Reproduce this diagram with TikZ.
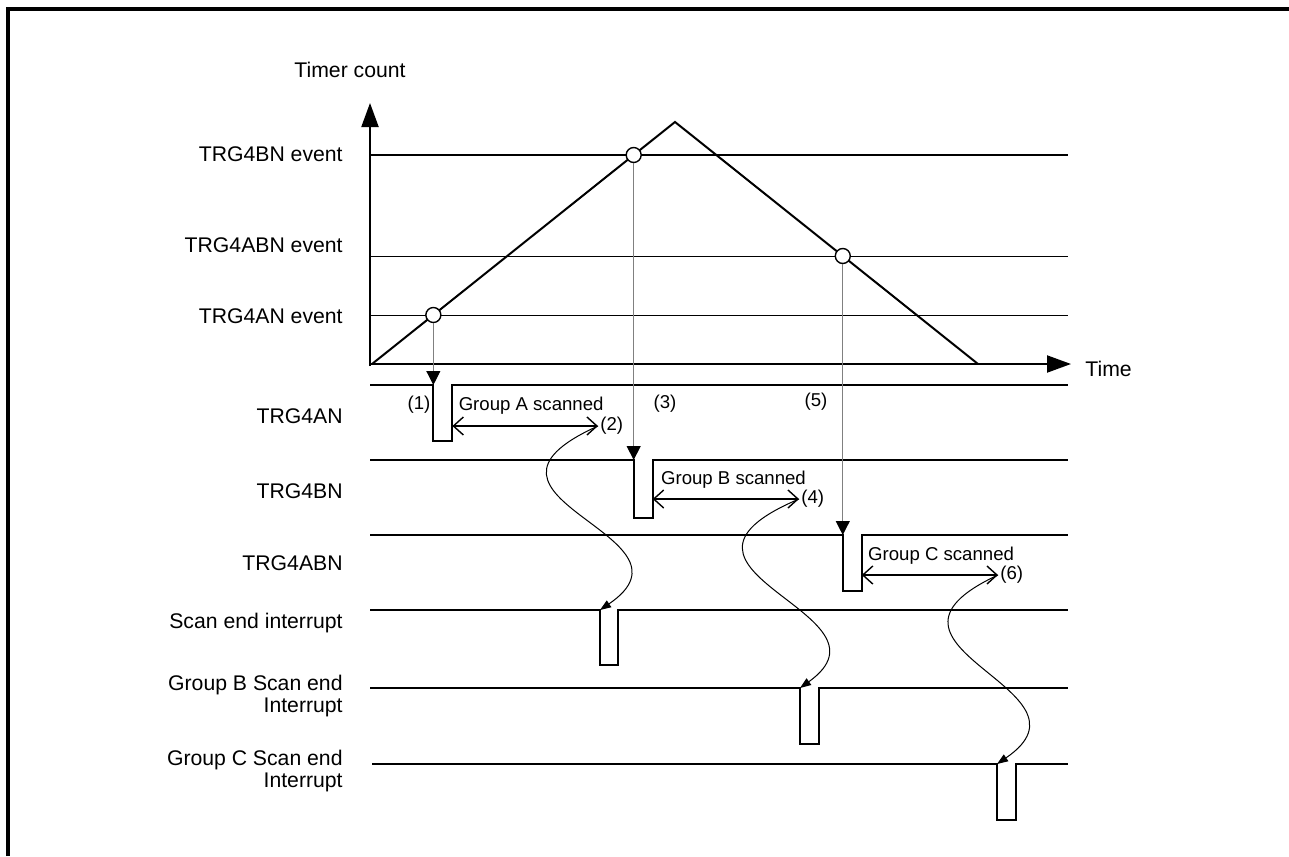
\documentclass[tikz,border=0pt]{standalone}
\usepackage{fontspec}
\setmainfont{Liberation Sans}
\usetikzlibrary{arrows.meta, positioning, calc, intersections}
\tikzset{
  lbl/.style  ={inner sep=0pt, font=\fontsize{10.6}{11}\selectfont},
  note/.style ={inner sep=1pt, font=\fontsize{9.3}{11}\selectfont},
  axis/.style ={-{Triangle[length=12pt,width=8.5pt]}, line width=1pt},
  level/.style={line width=0.5pt},
  ramp/.style ={line width=1pt},
  dot/.style  ={circle, draw=black, fill=white, line width=0.7pt,
                minimum size=7.5pt, inner sep=0pt},
  evline/.style={-{Triangle[length=7pt,width=7pt,color=black]}, draw=black!50, line width=0.5pt},
  sig/.style  ={line width=1pt},
  span/.style ={{Straight Barb[length=5pt,width=9pt]}-{Straight Barb[length=5pt,width=9pt]}, line width=0.7pt},
  wave/.style ={-{Triangle[length=5.5pt,width=4pt]}, line width=0.5pt},
}
\begin{document}
\begin{tikzpicture}[x=0.5pt, y=-0.5pt]
\useasboundingbox (0,0) rectangle (1289,856);

% frame
\draw[line width=2pt] (7.5,856) -- (7.5,9) -- (1289,9);

% axes
\coordinate (org) at (370,364);
\coordinate (ytip) at (370,103);
\coordinate (xtip) at (1071,364);
\draw[axis] (370,366) -- (ytip);
\draw[axis] (org) -- (xtip);
\node[lbl, anchor=base] (ycap) at (350,78) {Timer count};
\node[lbl, anchor=base west] (xcap) at (1085,376) {Time};

% compare levels
\draw[level, line width=0.9pt, name path=lineB] (370,155) -- (1068,155);
\draw[level, name path=lineAB] (370,256) -- (1068,256);
\draw[level, name path=lineA] (370,315) -- (1068,315);
\node[lbl, anchor=base east] (lvB)  at (343,162) {TRG4BN event};
\node[lbl, anchor=base east] (lvAB) at (343,252) {TRG4ABN event};
\node[lbl, anchor=base east] (lvA)  at (343,323) {TRG4AN event};

% timer ramp
\draw[ramp, name path=rampline] (372,364) -- (675,122) -- (978,364);
\path[name intersections={of=rampline and lineA, sort by=lineA, by={pA,qA}}];
\path[name intersections={of=rampline and lineB, sort by=lineB, by={pB,qB}}];
\path[name intersections={of=rampline and lineAB, sort by=lineAB, by={qAB,pAB}}];
\node[dot] (evA)  at (pA)  {};
\node[dot] (evB)  at (pB)  {};
\node[dot] (evAB) at (pAB) {};

% trigger signals
\coordinate (yA)  at (370,385);
\coordinate (yB)  at (370,460);
\coordinate (yAB) at (370,535);
\coordinate (fallA)  at (evA |- yA);
\coordinate (fallB)  at (evB |- yB);
\coordinate (fallAB) at (evAB |- yAB);
\coordinate (riseA)  at ($(fallA)+(19,0)$);
\coordinate (riseB)  at ($(fallB)+(19,0)$);
\coordinate (riseAB) at ($(fallAB)+(19,0)$);

\draw[sig] (yA) -- (fallA) -- ++(0,56) -- (riseA |- 0,441) -- (riseA) -- (1068,385);
\draw[sig] (yB) -- (fallB) -- ++(0,58) -- (riseB |- 0,518) -- (riseB) -- (1068,460);
\draw[sig] (yAB) -- (fallAB) -- ++(0,56) -- (riseAB |- 0,591) -- (riseAB) -- (1068,535);

\node[lbl, anchor=base east] (sA)  at (343,423) {TRG4AN};
\node[lbl, anchor=base east] (sB)  at (343,498) {TRG4BN};
\node[lbl, anchor=base east] (sAB) at (343,570) {TRG4ABN};

\draw[evline] (evA) -- (fallA);
\draw[evline] (evB) -- (fallB);
\draw[evline] (evAB) -- (fallAB);

% scan intervals
\coordinate (endA)  at (598,426);
\coordinate (endB)  at (799,499);
\coordinate (endC)  at (998,575);
\draw[span] (riseA |- endA) -- (endA);
\draw[span] (riseB |- endB) -- (endB);
\draw[span] (riseAB |- endC) -- (endC);
\node[note, anchor=base west] (scA) at ($(riseA)+(4,25)$) {Group A scanned};
\node[note, anchor=base west] (scB) at ($(riseB)+(6,24)$) {Group B scanned};
\node[note, anchor=base west] (scC) at ($(riseAB)+(4,25)$) {Group C scanned};

\node[note] (n1) at (419,405) {(1)};
\node[note, right=0pt of endA] (n2) {(2)};
\node[note] (n3) at (665,404) {(3)};
\node[note, right=0pt of endB] (n4) {(4)};
\node[note] (n5) at (816,402) {(5)};
\node[note, right=0pt of endC] (n6) {(6)};

% scan end interrupts
\coordinate (fallS)  at (600,610);
\coordinate (fallGB) at (800,688);
\coordinate (fallGC) at (997,764);
\draw[sig] (370,610) -- (fallS) -- ++(0,55) -- ++(18,0) -- ++(0,-55) -- (1068,610);
\draw[sig] (370,688) -- (fallGB) -- ++(0,56) -- ++(19,0) -- ++(0,-56) -- (1068,688);
\draw[sig] (372,764) -- (fallGC) -- ++(0,56) -- ++(19,0) -- ++(0,-56) -- (1068,764);

\node[lbl, anchor=base east] (iS) at (343,628) {Scan end interrupt};
\node[lbl, anchor=base east, align=right] (iB) at (343,712) {Group B Scan end\\Interrupt};
\node[lbl, anchor=base east, align=right] (iC) at (343,787) {Group C Scan end\\Interrupt};

\draw[wave] (endA) .. controls +(-160,72) and +(110,-75) .. (fallS);
\draw[wave] (endB) .. controls +(-170,72) and +(105,-75) .. (fallGB);
\draw[wave] (endC) .. controls +(-155,72) and +(110,-75) .. (fallGC);

\end{tikzpicture}
\end{document}
